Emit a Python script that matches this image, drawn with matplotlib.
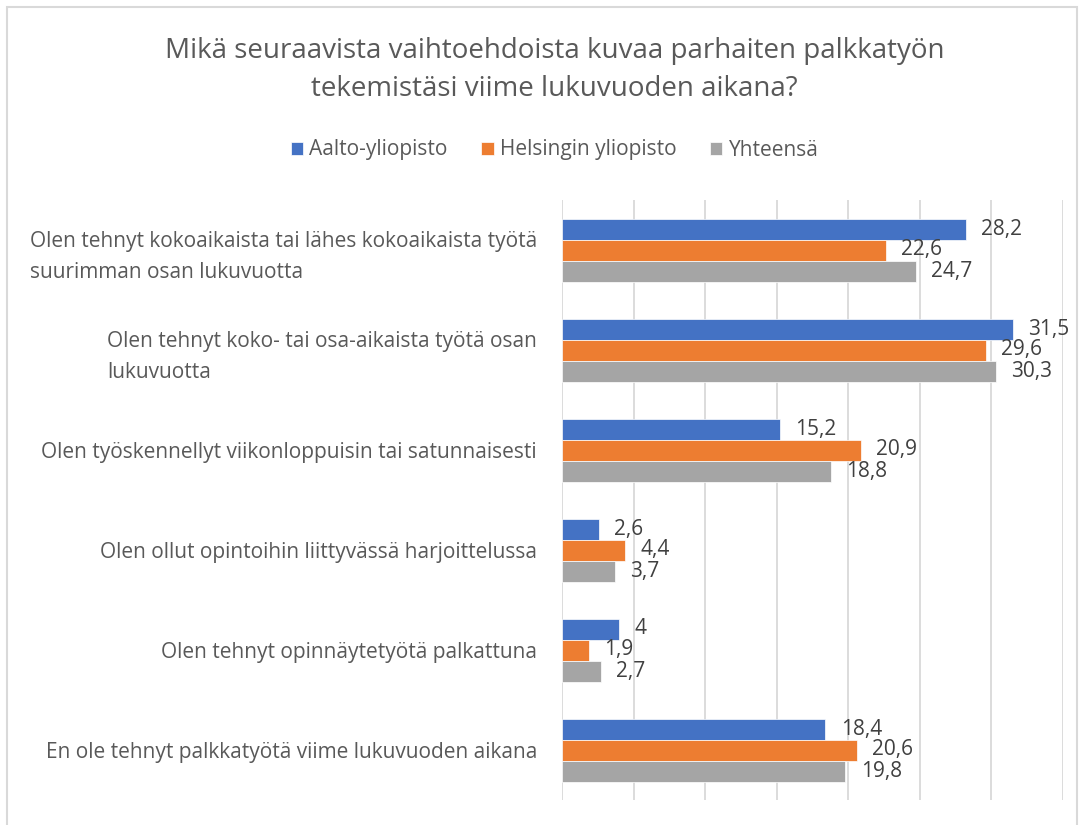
import numpy as np
import matplotlib.pyplot as plt
from matplotlib.patches import Rectangle

# Données
categories = [
    "Olen tehnyt kokoaikaista tai lähes kokoaikaista työtä\nsuurimman osan lukuvuotta",
    "Olen tehnyt koko- tai osa-aikaista työtä osan\nlukuvuotta",
    "Olen työskennellyt viikonloppuisin tai satunnaisesti",
    "Olen ollut opintoihin liittyvässä harjoittelussa",
    "Olen tehnyt opinnäytetyötä palkattuna",
    "En ole tehnyt palkkatyötä viime lukuvuoden aikana",
]
series_names = ["Aalto-yliopisto", "Helsingin yliopisto", "Yhteensä"]
aalto = [28.2, 31.5, 15.2, 2.6, 4.0, 18.4]
helsinki = [22.6, 29.6, 20.9, 4.4, 1.9, 20.6]
yhteensa = [24.7, 30.3, 18.8, 3.7, 2.7, 19.8]
colors = ["#4472C4", "#ED7D31", "#A5A5A5"]

plt.rcParams['font.family'] = ['Open Sans', 'DejaVu Sans']

fig = plt.figure(figsize=(10.83, 8.25), dpi=100)
fig.patches.append(Rectangle((7 / 1083, -0.1), 1070 / 1083, 1.1 - 7 / 825,
                             transform=fig.transFigure, fill=False,
                             edgecolor="#d9d9d9", linewidth=1.5))

ax = fig.add_axes([562 / 1083, 1 - 800 / 825, 501 / 1083, 600 / 825])

y = np.arange(len(categories))
h = 0.21
for i, (vals, name, c) in enumerate(zip([aalto, helsinki, yhteensa], series_names, colors)):
    pos = y + (i - 1) * h
    ax.barh(pos, vals, height=h, color=c, label=name, edgecolor="white", linewidth=0.5)
    for p, v in zip(pos, vals):
        txt = f"{v:g}".replace(".", ",")
        ax.annotate(txt, (v, p), xytext=(11, 0), textcoords="offset points",
                    va="center", ha="left", fontsize=15, color="#404040")

ax.set_xlim(0, 35)
ax.set_ylim(len(categories) - 0.5, -0.5)
ax.set_xticks(np.arange(0, 36, 5))
ax.set_xticklabels([])
ax.tick_params(axis="x", length=0)
ax.grid(axis="x", color="#d9d9d9", linewidth=1.3)
ax.set_axisbelow(True)
for s in ax.spines.values():
    s.set_visible(False)

ax.set_yticks(y)
ax.set_yticklabels(categories, fontsize=15, color="#595959",
                   multialignment="left", linespacing=1.6)
ax.tick_params(axis="y", length=0, pad=18)

fig.text(0.512, 1 - 70 / 825,
         "Mikä seuraavista vaihtoehdoista kuvaa parhaiten palkkatyön\ntekemistäsi viime lukuvuoden aikana?",
         ha="center", va="center", fontsize=20, color="#595959", linespacing=1.5)

fig.legend(loc="center", bbox_to_anchor=(0.512, 1 - 150 / 825), ncol=3, frameon=False,
           fontsize=15, labelcolor="#595959", handlelength=0.6, handleheight=0.6,
           handletextpad=0.3, columnspacing=1.6)

fig.savefig("out.png", dpi=100)
